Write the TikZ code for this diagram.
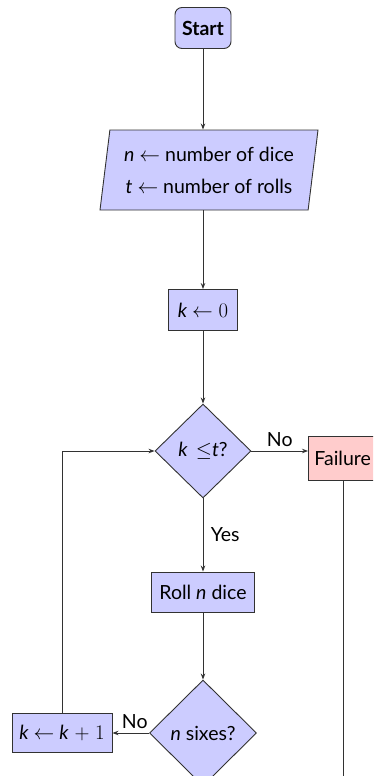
\documentclass[tikz,border=0pt]{standalone}
\usepackage{fontspec}
\setmainfont{Lato}
\usetikzlibrary{shapes.geometric,arrows.meta}
\definecolor{boxblue}{RGB}{204,204,255}
\definecolor{boxred}{RGB}{255,204,204}
\definecolor{edge}{RGB}{50,50,50}
\tikzset{
  base/.style={draw=edge, line width=0.9pt, fill=boxblue, font=\fontsize{19.5}{23}\selectfont, text=black},
  procbox/.style={base, rectangle, inner sep=0pt},
  startbox/.style={base, rectangle, rounded corners=7pt, inner sep=0pt, font=\fontsize{19.5}{23}\selectfont\bfseries},
  iobox/.style={base, trapezium, trapezium left angle=78, trapezium right angle=102, trapezium stretches body=true, inner xsep=2pt, inner ysep=0pt},
  decision/.style={base, diamond, aspect=1, inner sep=0pt},
  failbox/.style={base, rectangle, fill=boxred, inner sep=0pt},
  conn/.style={draw=edge, line width=0.9pt, -{Stealth[length=6pt,width=4.5pt]}},
  plain/.style={draw=edge, line width=0.9pt},
  lab/.style={font=\fontsize{19.5}{23}\selectfont, text=black}
}
\begin{document}
\begin{tikzpicture}[x=1pt,y=-1pt]
\useasboundingbox (0,0) rectangle (373,776);
\clip (0,0) rectangle (373,776);
\node[startbox, minimum width=56pt, minimum height=41pt] (start) at (203,28) {Start};
\node[iobox, minimum width=218pt, minimum height=80pt, align=center] (input) at (209,170)
  {\textit{n} $\leftarrow$ number of dice\\[9pt] \textit{t} $\leftarrow$ number of rolls};
\node[procbox, minimum width=69pt, minimum height=41pt] (kzero) at (203,310) {\textit{k} $\leftarrow 0$};
\node[decision, minimum width=96pt, minimum height=94pt] (cond) at (203,451) {\textit{k}\, $\leq$\textit{t}?};
\node[failbox, anchor=west, minimum width=75pt, minimum height=44pt, text width=71pt, align=left] (fail) at (308,458) {\hspace{4pt}Failure};
\node[procbox, minimum width=100pt, minimum height=39pt] (inc) at (62,733) {\textit{k} $\leftarrow$ \textit{k}$\;+\;1$};
\node[procbox, minimum width=103pt, minimum height=40pt] (roll) at (203,592) {Roll \textit{n} dice};
\node[decision, minimum width=107pt, minimum height=106pt] (six) at (203,733) {\textit{n} sixes?};
\coordinate (failend) at (343,790);

\draw[conn] (start) -- (start |- input.north);
\draw[conn] (kzero |- input.south) -- (kzero);
\draw[conn] (kzero) -- (cond);
\draw[conn] (cond.east) -- node[lab, above=1pt] {No} (cond.east -| fail.west);
\draw[conn] (cond) -- node[lab, right=4pt] {Yes} (roll);
\draw[conn] (roll) -- (six);
\draw[conn] (six) -- node[lab, above=1pt, xshift=4pt] {No} (inc);
\draw[conn] (inc.north) |- (cond.west);
\draw[plain] (fail.south -| failend) -- (failend);
\end{tikzpicture}
\end{document}
